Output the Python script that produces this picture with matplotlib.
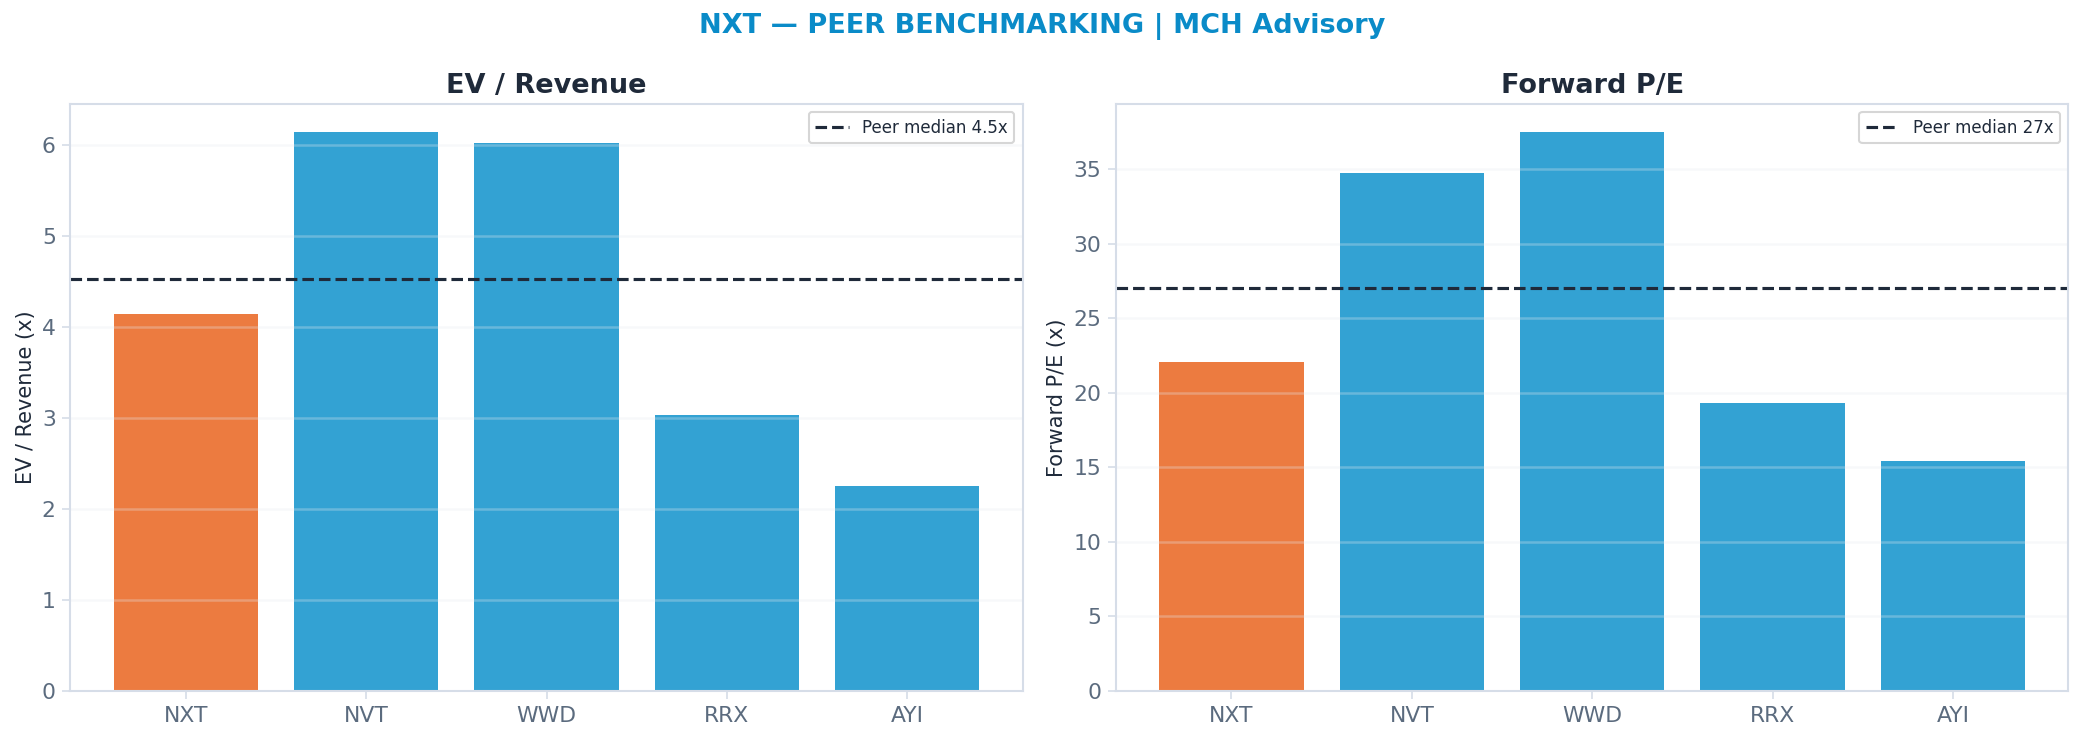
import numpy as np
import matplotlib
matplotlib.use('Agg')
import matplotlib.pyplot as plt

TICKERS = ['NXT', 'NVT', 'WWD', 'RRX', 'AYI']
EV_REV = [4.14, 6.15, 6.03, 3.03, 2.25]
FWD_PE = [22.05, 34.7, 37.5, 19.3, 15.45]

ORANGE = '#EC7B40'
BLUE = '#33A2D3'
DARK = '#1F2A3A'
GREY = '#5B6B7E'
SPINE = '#D6DDE8'

plt.rcParams.update({'font.family': 'DejaVu Sans'})

fig, axes = plt.subplots(1, 2, figsize=(2084/150, 741/150), dpi=150)
fig.subplots_adjust(left=0.0338, right=0.9925, bottom=0.0675, top=0.86, wspace=0.098)

panels = [
    (axes[0], EV_REV, 'EV / Revenue', 'EV / Revenue (x)', '{:.1f}x'),
    (axes[1], FWD_PE, 'Forward P/E', 'Forward P/E (x)', '{:.0f}x'),
]

for ax, vals, title, ylabel, fmt in panels:
    colors = [ORANGE] + [BLUE] * (len(vals) - 1)
    ax.bar(TICKERS, vals, width=0.8, color=colors)
    med = np.median(vals[1:])  # peers only
    ax.axhline(med, color=DARK, linestyle='--', linewidth=1.5,
               label='Peer median ' + fmt.format(med))
    ax.set_ylim(0, max(vals) * 1.05)
    ax.set_title(title, fontsize=13, fontweight='bold', color=DARK, pad=5)
    ax.set_ylabel(ylabel, fontsize=10, color=DARK, labelpad=3)
    ax.tick_params(axis='both', labelsize=10.5, length=4, color=SPINE, pad=3)
    for lbl in ax.get_xticklabels() + ax.get_yticklabels():
        lbl.set_color(GREY)
    for sp in ax.spines.values():
        sp.set_color(SPINE)
        sp.set_linewidth(1.0)
    ax.grid(axis='y', color='#E6EAF0', alpha=0.3, linewidth=1.2)
    leg = ax.legend(loc='upper right', fontsize=8, frameon=True, handlelength=2.0)
    leg.get_frame().set_edgecolor('#CCCCCC')
    for t in leg.get_texts():
        t.set_color(DARK)

fig.suptitle('NXT — PEER BENCHMARKING | MCH Advisory', fontsize=13,
             fontweight='bold', color='#0A8BC8', y=0.983)

fig.savefig('out.png', dpi=150)
